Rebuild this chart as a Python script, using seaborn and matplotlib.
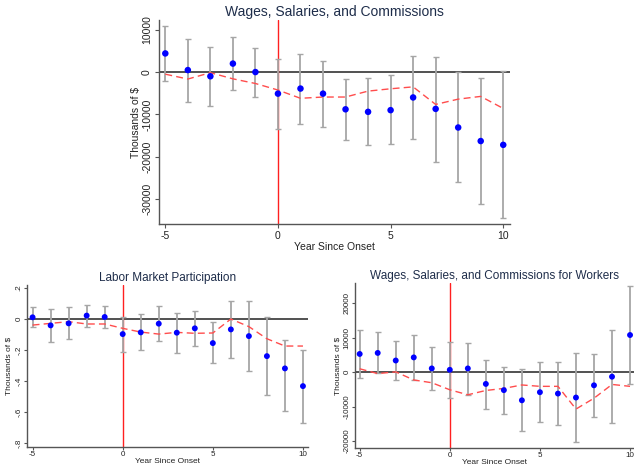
import numpy as np
import pandas as pd
import matplotlib
matplotlib.use("Agg")
import matplotlib.pyplot as plt
import seaborn as sns

sns.set_style("white")
plt.rcParams['font.family'] = ['Liberation Sans', 'DejaVu Sans']

years = list(range(-5, 11))

# Panel 1: Wages, Salaries, and Commissions
wsc_est = [4400, 470, -1000, 2000, 0, -5100, -3900, -5100, -8800, -9400, -9000, -6000, -8700, -13100, -16300, -17200]
wsc_hi = [11000, 7800, 6000, 8200, 5750, 3150, 4250, 2700, -1600, -1500, -800, 3900, 3600, 0, -1400, 200]
wsc_lo = [-2200, -7000, -8000, -4250, -6000, -13400, -12200, -12900, -16100, -17300, -17100, -15900, -21200, -26000, -31100, -34600]
wsc_ref = [-500, -1650, -150, -1600, -2700, -4250, -6200, -5900, -5900, -4500, -3950, -3500, -7650, -6400, -5750, -8600]

# Panel 2: Labor Market Participation
lmp_est = [0.011, -0.041, -0.028, 0.022, 0.013, -0.097, -0.086, -0.030, -0.088, -0.060, -0.155, -0.067, -0.110, -0.239, -0.318, -0.432]
lmp_hi = [0.075, 0.067, 0.075, 0.092, 0.084, 0.015, 0.030, 0.082, 0.039, 0.052, -0.019, 0.114, 0.114, 0.011, -0.135, -0.198]
lmp_lo = [-0.052, -0.148, -0.129, -0.049, -0.060, -0.211, -0.200, -0.142, -0.217, -0.174, -0.286, -0.252, -0.335, -0.490, -0.591, -0.667]
lmp_ref = [-0.039, -0.028, -0.017, -0.032, -0.032, -0.060, -0.084, -0.097, -0.086, -0.092, -0.090, 0.0, -0.049, -0.127, -0.174, -0.174]

# Panel 3: Wages, Salaries, and Commissions for Workers
wkr_est = [5300, 5600, 3400, 4300, 1100, 700, 1100, -3400, -5200, -8150, -5800, -6200, -7350, -3800, -1300, 10800]
wkr_hi = [12150, 11550, 9000, 10900, 7250, 8700, 8600, 3650, 1550, 900, 2850, 2950, 5700, 5200, 12150, 25000]
wkr_lo = [-1550, -300, -2250, -2250, -5100, -7450, -6550, -10600, -12000, -17150, -14400, -15300, -20400, -12950, -14700, -3400]
wkr_ref = [1000, -400, 100, -2250, -3050, -5100, -6550, -5300, -4700, -3700, -4100, -4100, -10700, -7550, -3550, -4100]

W, H = 634, 468
fig = plt.figure(figsize=(W / 100, H / 100), dpi=100)

def ax_px(l, t, r, b):
    return fig.add_axes([l / W, 1 - b / H, (r - l) / W, (b - t) / H])

panels = [
    dict(title="Wages, Salaries, and Commissions", est=wsc_est, hi=wsc_hi, lo=wsc_lo, ref=wsc_ref,
         box=(159, 20, 510, 224), xlim=(-5.28, 10.3), ylim=(-35900, 12300),
         yticks=[-30000, -20000, -10000, 0, 10000], ylabels=["-30000", "-20000", "-10000", "0", "10000"],
         tfs=10, fs=7.5, lfs=7.5, ms=22, tl=3, pad=2, lpx=1, lpy=0.5),
    dict(title="Labor Market Participation", est=lmp_est, hi=lmp_hi, lo=lmp_lo, ref=lmp_ref,
         box=(27, 285, 308, 447), xlim=(-5.31, 10.28), ylim=(-0.824, 0.219),
         yticks=[-0.8, -0.6, -0.4, -0.2, 0, 0.2], ylabels=["-.8", "-.6", "-.4", "-.2", "0", ".2"],
         tfs=8.5, fs=5.8, lfs=6, ms=18, tl=2.2, pad=1, lpx=-0.5, lpy=2.5),
    dict(title="Wages, Salaries, and Commissions for Workers", est=wkr_est, hi=wkr_hi, lo=wkr_lo, ref=wkr_ref,
         box=(355, 283, 634, 448), xlim=(-5.26, 10.22), ylim=(-22000, 25900),
         yticks=[-20000, -10000, 0, 10000, 20000], ylabels=["-20000", "-10000", "0", "10000", "20000"],
         tfs=8.5, fs=5.8, lfs=6, ms=18, tl=2.2, pad=1, lpx=-0.5, lpy=1.5),
]

spine_col = "#555555"
title_col = "#1e2d4a"
for p in panels:
    ax = ax_px(*p["box"])
    df = pd.DataFrame({"year": years, "est": p["est"], "hi": p["hi"], "lo": p["lo"], "ref": p["ref"]})
    est = np.array(p["est"]); hi = np.array(p["hi"]); lo = np.array(p["lo"])
    ax.axhline(0, color="#222222", lw=1.1, zorder=1)
    ax.axvline(0, color="#ff2020", lw=1.0, zorder=1)
    ax.errorbar(df["year"], est, yerr=[est - lo, hi - est], fmt="none", ecolor="#a6a6a6",
                elinewidth=1.3, capsize=2.2, capthick=1.0, zorder=2)
    sns.lineplot(data=df, x="year", y="ref", ax=ax, color="#ff4d4d", lw=1.0,
                 linestyle=(0, (5, 3)), zorder=3, legend=False)
    sns.scatterplot(data=df, x="year", y="est", ax=ax, color="#0000ff", s=p["ms"],
                    edgecolor="none", zorder=4, legend=False)
    ax.set_xlim(*p["xlim"])
    ax.set_ylim(*p["ylim"])
    ax.set_xticks([-5, 0, 5, 10])
    ax.set_xticklabels(["-5", "0", "5", "10"], fontsize=p["fs"], color="#222222")
    ax.set_yticks(p["yticks"])
    ax.set_yticklabels(p["ylabels"], fontsize=p["fs"], rotation=90, va="center", color="#222222")
    ax.tick_params(axis="both", direction="out", length=p["tl"], width=0.8, color=spine_col,
                   pad=p["pad"], bottom=True, left=True)
    ax.set_xlabel("Year Since Onset", fontsize=p["lfs"], color="#222222", labelpad=p["lpx"])
    ax.set_ylabel("Thousands of $", fontsize=p["lfs"], color="#222222", labelpad=p["lpy"])
    ax.set_title(p["title"], fontsize=p["tfs"], color=title_col, pad=3)
    for s in ["top", "right"]:
        ax.spines[s].set_visible(False)
    for s in ["left", "bottom"]:
        ax.spines[s].set_color(spine_col)
        ax.spines[s].set_linewidth(1.0)
    ax.set_facecolor("white")

fig.savefig("out.png", dpi=100, facecolor="white")
